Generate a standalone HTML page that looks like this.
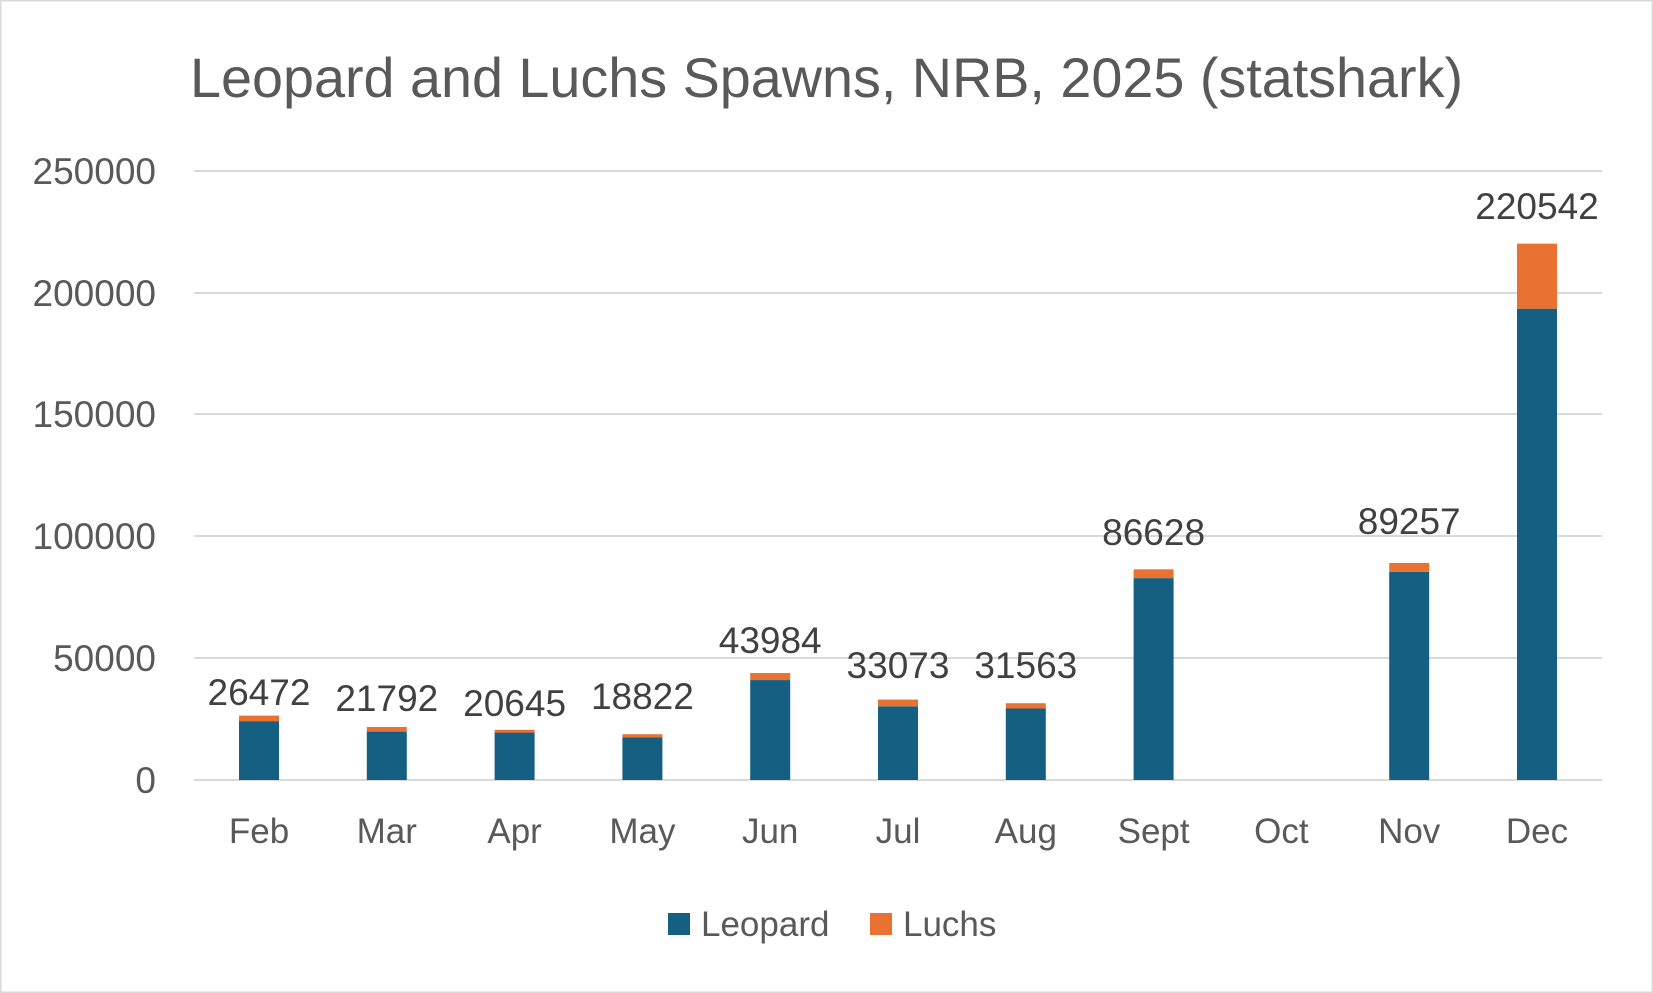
<!DOCTYPE html>
<html><head><meta charset="utf-8"><style>
html,body{margin:0;padding:0;background:#fff;}
svg{display:block;}
text{font-family:"Liberation Sans",sans-serif;}
</style></head><body>
<svg width="1653" height="993" viewBox="0 0 1653 993" xmlns="http://www.w3.org/2000/svg">
<rect x="0.5" y="0.5" width="1652" height="992" fill="#fff" stroke="#d9d9d9" stroke-width="2"/>
<text x="190" y="97" font-size="56" fill="#595959" textLength="1273" lengthAdjust="spacingAndGlyphs">Leopard and Luchs Spawns, NRB, 2025 (statshark)</text>
<g stroke="#d9d9d9" stroke-width="2">
<line x1="194" y1="171" x2="1602" y2="171"/>
<line x1="194" y1="293" x2="1602" y2="293"/>
<line x1="194" y1="414" x2="1602" y2="414"/>
<line x1="194" y1="536" x2="1602" y2="536"/>
<line x1="194" y1="658" x2="1602" y2="658"/>
<line x1="194" y1="780" x2="1602" y2="780"/>
</g>
<g font-size="37" fill="#595959" text-anchor="end">
<text x="156" y="184">250000</text>
<text x="156" y="306">200000</text>
<text x="156" y="427">150000</text>
<text x="156" y="549">100000</text>
<text x="156" y="671">50000</text>
<text x="156" y="793">0</text>
</g>
<g id="bars"></g>
<g font-size="35" fill="#595959" text-anchor="middle" id="xl"></g>
<g font-size="37" fill="#404040" text-anchor="middle" id="dl"></g>
<rect x="668" y="913" width="22" height="22" fill="#156082"/>
<text x="701" y="936" font-size="35" fill="#595959">Leopard</text>
<rect x="870" y="913" width="22" height="22" fill="#e97132"/>
<text x="903" y="936" font-size="35" fill="#595959">Luchs</text>
<script>
var months=["Feb","Mar","Apr","May","Jun","Jul","Aug","Sept","Oct","Nov","Dec"];
var tot=[26472,21792,20645,18822,43984,33073,31563,86628,0,89257,220542];
var leo=[24200,19900,19500,17500,41100,30300,29400,83000,0,85600,193800];
var lab=[705,711,716,709,653,678,678,545,0,534,219];
var ns="http://www.w3.org/2000/svg";
function y(v){return 780-v/250000*608;}
var b=document.getElementById("bars"),xl=document.getElementById("xl"),dl=document.getElementById("dl");
for(var i=0;i<11;i++){
 var cx=259+i*127.8;
 var t=document.createElementNS(ns,"text");t.setAttribute("x",cx);t.setAttribute("y",843);t.textContent=months[i];xl.appendChild(t);
 if(!tot[i])continue;
 var r=document.createElementNS(ns,"rect");r.setAttribute("x",cx-20);r.setAttribute("width",40);r.setAttribute("y",y(leo[i]));r.setAttribute("height",780-y(leo[i]));r.setAttribute("fill","#156082");b.appendChild(r);
 var o=document.createElementNS(ns,"rect");o.setAttribute("x",cx-20);o.setAttribute("width",40);o.setAttribute("y",y(tot[i]));o.setAttribute("height",y(leo[i])-y(tot[i]));o.setAttribute("fill","#e97132");b.appendChild(o);
 var d=document.createElementNS(ns,"text");d.setAttribute("x",cx);d.setAttribute("y",lab[i]);d.textContent=tot[i];dl.appendChild(d);
}
</script>
</svg>
</body></html>
